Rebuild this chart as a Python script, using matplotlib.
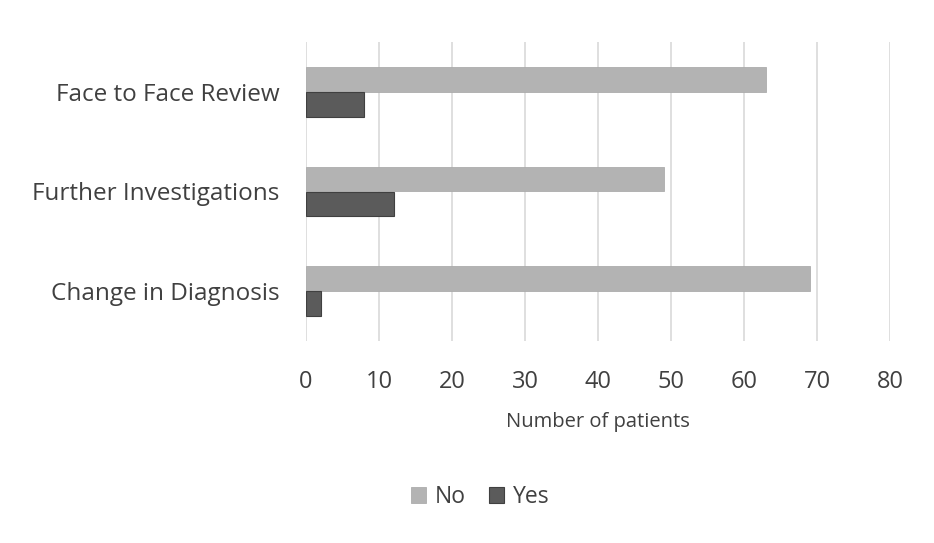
import matplotlib
matplotlib.use("Agg")
import matplotlib.pyplot as plt
import numpy as np

categories = ["Face to Face Review", "Further Investigations", "Change in Diagnosis"]
no_values = [63, 49, 69]
yes_values = [8, 12, 2]
series_names = ["No", "Yes"]
xticks = [0, 10, 20, 30, 40, 50, 60, 70, 80]

plt.rcParams['font.family'] = ['Open Sans', 'DejaVu Sans']

fig = plt.figure(figsize=(9.34, 5.43), dpi=100)
ax = fig.add_axes([306/934, 1 - 341/543, (890-306)/934, (341-42)/543])

y = np.arange(len(categories))
h = 0.25
ax.barh(y - h/2, no_values, height=h, color="#b3b3b3", edgecolor="#acacac", linewidth=0.6, label=series_names[0], zorder=3)
ax.barh(y + h/2, yes_values, height=h, color="#5b5b5b", edgecolor="#404040", linewidth=0.8, label=series_names[1], zorder=3)

ax.set_ylim(2.5, -0.5)
ax.set_xlim(0, 80)
ax.set_xticks(xticks)
ax.set_xticklabels([str(t) for t in xticks], fontsize=17, color="#404040")
ax.set_yticks(y)
ax.set_yticklabels(categories, fontsize=17.5, color="#404040")
ax.tick_params(axis='both', length=0)
ax.tick_params(axis='y', pad=19)
ax.tick_params(axis='x', pad=21)
ax.grid(axis='x', color="#d9d9d9", linewidth=1.2, zorder=0)
ax.set_axisbelow(True)
for s in ax.spines.values():
    s.set_visible(False)

ax.set_xlabel("Number of patients", fontsize=14.5, color="#404040", labelpad=13)

handles, labels = ax.get_legend_handles_labels()
fig.legend(handles, labels, loc='center', bbox_to_anchor=(480/934, 1 - 497/543), ncol=2,
           frameon=False, fontsize=16.5, handlelength=0.65, handleheight=0.65,
           handletextpad=0.4, columnspacing=1.0, labelcolor="#404040")

fig.savefig("out.png", dpi=100)
